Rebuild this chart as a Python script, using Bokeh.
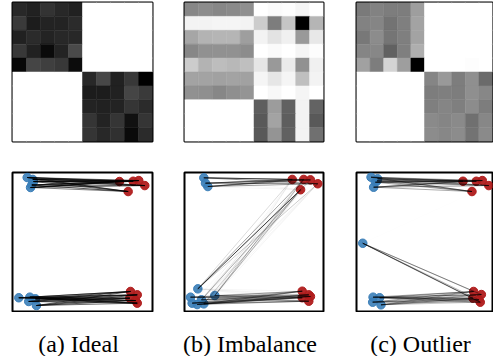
import numpy as np
from bokeh.plotting import figure
from bokeh.layouts import column, row
from bokeh.models import ColumnDataSource
from bokeh.core.properties import value
from bokeh.palettes import Greys256
from bokeh.transform import linear_cmap
from bokeh.embed import file_html
from bokeh.resources import INLINE

captions = ["(a) Ideal", "(b) Imbalance", "(c) Outlier"]

# transport plans (0 = white, 1 = black); rows = blue points, cols = red points
plan_ideal = [
    [0.84, 0.87, 0.80, 0.84, 0.87, 0, 0, 0, 0, 0],
    [0.77, 0.89, 0.86, 0.86, 0.83, 0, 0, 0, 0, 0],
    [0.87, 0.83, 0.86, 0.84, 0.84, 0, 0, 0, 0, 0],
    [0.78, 0.87, 0.96, 0.86, 0.71, 0, 0, 0, 0, 0],
    [0.97, 0.73, 0.75, 0.78, 0.95, 0, 0, 0, 0, 0],
    [0, 0, 0, 0, 0, 0.84, 0.72, 0.87, 0.78, 1.00],
    [0, 0, 0, 0, 0, 0.89, 0.89, 0.87, 0.73, 0.77],
    [0, 0, 0, 0, 0, 0.86, 0.87, 0.86, 0.79, 0.83],
    [0, 0, 0, 0, 0, 0.79, 0.86, 0.79, 0.93, 0.79],
    [0, 0, 0, 0, 0, 0.79, 0.84, 0.81, 0.96, 0.83],
]
plan_imbalance = [
    [0.47, 0.45, 0.47, 0.46, 0.44, 0.00, 0.02, 0.01, 0.04, 0.00],
    [0.05, 0.05, 0.04, 0.04, 0.05, 0.20, 0.51, 0.23, 1.00, 0.29],
    [0.35, 0.30, 0.29, 0.29, 0.38, 0.05, 0.11, 0.06, 0.40, 0.09],
    [0.47, 0.43, 0.43, 0.43, 0.45, 0.00, 0.02, 0.00, 0.04, 0.01],
    [0.20, 0.30, 0.26, 0.28, 0.25, 0.10, 0.40, 0.08, 0.43, 0.06],
    [0.36, 0.36, 0.37, 0.36, 0.37, 0.04, 0.10, 0.04, 0.25, 0.05],
    [0.43, 0.44, 0.47, 0.44, 0.42, 0.00, 0.03, 0.00, 0.04, 0.00],
    [0, 0, 0, 0, 0, 0.63, 0.39, 0.62, 0.05, 0.61],
    [0, 0, 0, 0, 0, 0.65, 0.36, 0.63, 0.05, 0.65],
    [0, 0, 0, 0, 0, 0.65, 0.42, 0.62, 0.05, 0.56],
]
plan_outlier = [
    [0.52, 0.49, 0.51, 0.51, 0.38, 0, 0, 0, 0, 0],
    [0.49, 0.48, 0.55, 0.50, 0.36, 0, 0, 0, 0, 0],
    [0.53, 0.45, 0.54, 0.50, 0.36, 0, 0, 0, 0, 0],
    [0.48, 0.47, 0.62, 0.50, 0.32, 0, 0, 0, 0, 0],
    [0.37, 0.51, 0.17, 0.38, 1.00, 0, 0, 0, 0.01, 0],
    [0, 0, 0, 0, 0, 0.48, 0.40, 0.51, 0.44, 0.58],
    [0, 0, 0, 0, 0, 0.51, 0.50, 0.51, 0.44, 0.47],
    [0, 0, 0, 0, 0, 0.50, 0.48, 0.50, 0.45, 0.51],
    [0, 0, 0, 0, 0, 0.46, 0.48, 0.46, 0.56, 0.47],
    [0, 0, 0, 0, 0, 0.45, 0.47, 0.45, 0.55, 0.46],
]

# point positions (0..100 in each panel)
ideal_blue_x = [10.5, 14.5, 15.0, 12.9, 13.8, 4.5, 12.4, 11.6, 16.4, 17.1]
ideal_blue_y = [96.4, 95.0, 93.5, 89.2, 91.0, 9.9, 10.3, 7.2, 9.1, 4.3]
ideal_red_x = [76.4, 86.2, 90.2, 94.5, 82.6, 84.3, 89.1, 83.8, 87.9, 89.1]
ideal_red_y = [93.5, 93.7, 94.2, 90.6, 86.3, 14.4, 12.0, 9.6, 7.9, 6.0]

imb_blue_x = [4.3, 9.6, 12.2, 5.5, 21.8, 13.9, 9.1, 13.9, 15.1, 16.8]
imb_blue_y = [10.3, 16.3, 8.4, 6.0, 11.5, 5.5, 5.0, 96.2, 92.3, 89.9]
imb_red_x = [84.7, 89.4, 84.7, 90.6, 89.4, 77.5, 85.8, 90.6, 83.5, 95.9]
imb_red_y = [14.6, 12.0, 9.9, 10.8, 7.4, 95.0, 95.0, 94.7, 87.6, 91.9]

out_blue_x = [12.2, 17.0, 11.9, 18.0, 4.6, 10.7, 15.5, 13.9, 12.6, 15.1]
out_blue_y = [10.3, 9.9, 6.7, 4.8, 49.1, 96.6, 95.5, 93.0, 89.4, 94.0]
out_red_x = [86.1, 91.8, 85.6, 90.0, 91.0, 78.3, 88.1, 92.5, 97.3, 84.9]
out_red_y = [14.4, 12.2, 9.6, 8.4, 6.7, 93.7, 93.7, 94.2, 90.6, 86.3]

plans = [plan_ideal, plan_imbalance, plan_outlier]
points = [
    (ideal_blue_x, ideal_blue_y, ideal_red_x, ideal_red_y),
    (imb_blue_x, imb_blue_y, imb_red_x, imb_red_y),
    (out_blue_x, out_blue_y, out_red_x, out_red_y),
]

BLUE = "#3a7eb8"
RED = "#b01c1c"
FONT = "Liberation Serif"

# layout geometry: (border_left, frame_width, border_right)
cols_geom = [(12, 140, 16), (16, 139, 17), (16, 136, 1)]
FRAME_H = 139
TOP_H = 156
TOP_BT = 2
BOT_H = 156
BOT_BT = 16
CAP_H = 44


def base_fig(width, height, bl, br, bt, bb, xr, yr, outline=True):
    p = figure(width=width, height=height, x_range=xr, y_range=yr,
               output_backend="svg", toolbar_location=None,
               min_border_left=bl, min_border_right=br,
               min_border_top=bt, min_border_bottom=bb)
    p.xaxis.visible = False
    p.yaxis.visible = False
    p.xgrid.visible = False
    p.ygrid.visible = False
    p.outline_line_color = "black" if outline else None
    p.outline_line_width = 2
    p.outline_line_alpha = 1
    p.background_fill_color = "white"
    p.border_fill_color = "white"
    return p


top_figs, bot_figs, cap_figs = [], [], []
for k in range(3):
    bl, fw, br = cols_geom[k]
    w = bl + fw + br
    # heatmap
    M = np.array(plans[k], dtype=float)
    n_r, n_c = M.shape
    ii, jj = np.meshgrid(np.arange(n_r), np.arange(n_c), indexing="ij")
    src = ColumnDataSource(dict(x=(jj + 0.5).ravel(), y=(n_r - ii - 0.5).ravel(),
                                v=M.ravel()))
    ph = base_fig(w, TOP_H, bl, br, TOP_BT, TOP_H - TOP_BT - FRAME_H, (0, n_c), (0, n_r))
    cmap = linear_cmap("v", Greys256[::-1], 0, 1)
    ph.rect(x="x", y="y", width=1, height=1, source=src,
            fill_color=cmap, line_color=cmap, line_width=0.5)
    top_figs.append(ph)

    # scatter with transport lines
    bx, by, rx, ry = [np.array(a, dtype=float) for a in points[k]]
    ps = base_fig(w, BOT_H, bl, br, BOT_BT, BOT_H - BOT_BT - FRAME_H, (0, 100), (0, 100))
    ps.scatter(bx, by, size=8.5, fill_color=BLUE, line_color=BLUE, fill_alpha=0.9)
    ps.scatter(rx, ry, size=8.5, fill_color=RED, line_color=RED, fill_alpha=0.95)
    I, J = np.nonzero(M > 0)
    seg = ColumnDataSource(dict(x0=bx[I], y0=by[I], x1=rx[J], y1=ry[J],
                                a=M[I, J] * 0.7))
    ps.segment(x0="x0", y0="y0", x1="x1", y1="y1", source=seg,
               line_color="black", line_alpha="a", line_width=1)
    bot_figs.append(ps)

    # caption strip (pixel coordinates)
    pc = base_fig(w, CAP_H, 0, 0, 0, 0, (0, w), (0, CAP_H), outline=False)
    pc.text(x=[bl + fw / 2 - 4], y=[CAP_H - 31], text=[captions[k]],
            text_font=value(FONT), text_font_size="24px",
            text_align="center", text_baseline="middle", text_color="black")
    cap_figs.append(pc)

layout = column(row(*top_figs, spacing=0), row(*bot_figs, spacing=0),
                row(*cap_figs, spacing=0), spacing=0)

open("out.html", "w").write(file_html(layout, INLINE))
